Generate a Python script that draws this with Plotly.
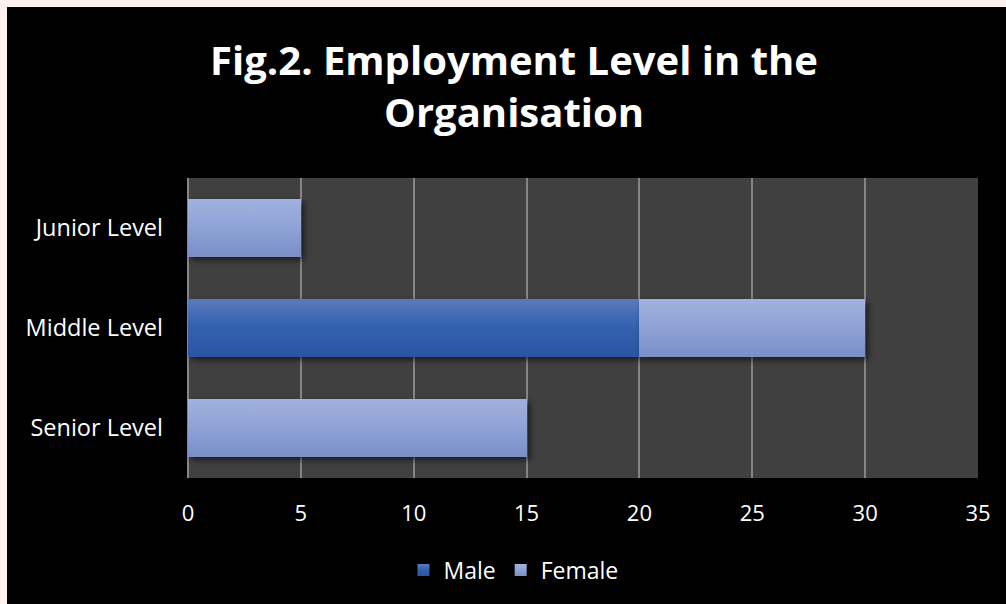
import json
import plotly.graph_objects as go

# Employment level by gender
levels = ["Senior Level", "Middle Level", "Junior Level"]
male = [0, 20, 0]
female = [15, 10, 5]
x_ticks = [0, 5, 10, 15, 20, 25, 30, 35]

MALE_COLOR = "#3a63b0"
FEMALE_COLOR = "#8ea1d4"
PLOT_BG = "#404040"
PAGE_EDGE = "#fdf1f1"

# vertical gradient stops applied to each series' bars
GRADIENT_STOPS = {
    MALE_COLOR: [[0, "#5a7abe"], [0.5, "#3260ae"], [1, "#2b56a4"]],
    FEMALE_COLOR: [[0, "#a2b2de"], [0.5, "#8fa2d6"], [1, "#7a8ec7"]],
}

TEXT_FONT = "Open Sans"


def rgb_string(hex_color):
    h = hex_color.lstrip("#")
    r, g, b = (int(h[i:i + 2], 16) for i in (0, 2, 4))
    return f"rgb({r}, {g}, {b})"


fig = go.Figure()
fig.add_trace(go.Bar(
    name="Male", y=levels, x=male, orientation="h",
    marker=dict(color=MALE_COLOR, line=dict(width=0)),
))
fig.add_trace(go.Bar(
    name="Female", y=levels, x=female, orientation="h",
    marker=dict(color=FEMALE_COLOR, line=dict(width=0)),
))

fig.update_layout(
    width=1006, height=604,
    barmode="stack", bargap=0.42,
    paper_bgcolor="#000000", plot_bgcolor=PLOT_BG,
    margin=dict(l=188, r=28, t=178, b=126),
    font=dict(family=TEXT_FONT, size=22, color="#ffffff"),
    title=dict(
        text="Fig.2. Employment Level in the<br>Organisation",
        font=dict(family=TEXT_FONT, size=40, color="#ffffff", weight=700),
        x=0.511, xanchor="center", xref="container",
        y=0.876, yanchor="top", yref="container",
    ),
    showlegend=True,
    legend=dict(
        orientation="h", traceorder="normal",
        x=0.412, xanchor="center", y=-0.307, yanchor="middle",
        font=dict(family=TEXT_FONT, size=23, color="#ffffff"),
        bgcolor="rgba(0,0,0,0)",
    ),
    shapes=[
        # light page margin above and left of the chart panel
        dict(type="rect", xref="paper", yref="paper", layer="below",
             x0=-0.3, x1=1.3, y0=1.57, y1=1.7,
             fillcolor=PAGE_EDGE, line=dict(width=0)),
        dict(type="rect", xref="paper", yref="paper", layer="below",
             x0=-0.3, x1=-0.2291, y0=-0.8, y1=1.7,
             fillcolor=PAGE_EDGE, line=dict(width=0)),
    ],
)
fig.update_xaxes(
    range=[0, 35], tickvals=x_ticks, ticktext=[str(v) for v in x_ticks],
    showgrid=True, gridcolor="#858585", gridwidth=1.6,
    zeroline=True, zerolinecolor="#858585", zerolinewidth=1.6,
    showline=False, ticks="", ticklabelstandoff=20,
    tickfont=dict(family=TEXT_FONT, size=22, color="#ffffff"),
)
fig.update_yaxes(
    categoryorder="array", categoryarray=levels,
    showgrid=False, zeroline=False, showline=False, ticks="",
    ticklabelstandoff=24,
    tickfont=dict(family=TEXT_FONT, size=23.5, color="#ffffff"),
)

grad_js = json.dumps({rgb_string(k): v for k, v in GRADIENT_STOPS.items()})

post_script = """
var gd = document.getElementById('{plot_id}');
document.documentElement.style.background = '#000000';
document.body.style.background = '#000000';
var NS = 'http://www.w3.org/2000/svg';
var GRADS = %s;
var keys = Object.keys(GRADS);
function paint() {
  var svg = gd.querySelector('svg.main-svg');
  var defs = svg.querySelector('defs');
  if (!defs) { defs = document.createElementNS(NS, 'defs'); svg.insertBefore(defs, svg.firstChild); }
  keys.forEach(function (key, i) {
    var id = 'barfill' + i;
    if (document.getElementById(id)) return;
    var lg = document.createElementNS(NS, 'linearGradient');
    lg.setAttribute('id', id);
    lg.setAttribute('x1', '0'); lg.setAttribute('y1', '0');
    lg.setAttribute('x2', '0'); lg.setAttribute('y2', '1');
    GRADS[key].forEach(function (s) {
      var st = document.createElementNS(NS, 'stop');
      st.setAttribute('offset', s[0]);
      st.setAttribute('stop-color', s[1]);
      lg.appendChild(st);
    });
    defs.appendChild(lg);
  });
  if (!document.getElementById('barshadow')) {
    var f = document.createElementNS(NS, 'filter');
    f.setAttribute('id', 'barshadow');
    f.setAttribute('x', '-0.1'); f.setAttribute('y', '-0.3');
    f.setAttribute('width', '1.3'); f.setAttribute('height', '1.6');
    var ds = document.createElementNS(NS, 'feDropShadow');
    ds.setAttribute('dx', '3'); ds.setAttribute('dy', '3');
    ds.setAttribute('stdDeviation', '3');
    ds.setAttribute('flood-color', '#000000');
    ds.setAttribute('flood-opacity', '0.6');
    f.appendChild(ds);
    defs.appendChild(f);
  }
  gd.querySelectorAll('.barlayer path, .legendpoints path').forEach(function (p) {
    var idx = keys.indexOf(p.style.fill);
    if (idx < 0) return;
    p.style.fill = 'url(#barfill' + idx + ')';
    if (p.closest('.barlayer')) p.style.filter = 'url(#barshadow)';
  });
}
paint();
gd.on('plotly_afterplot', paint);
""" % grad_js

fig.write_html("out.html", post_script=post_script)
